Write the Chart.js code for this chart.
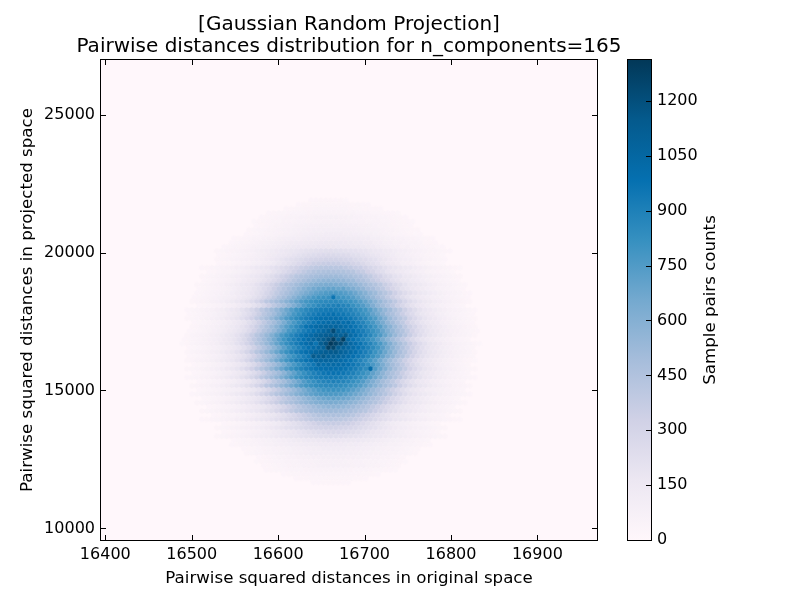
<!DOCTYPE html>
<html>
<head>
<meta charset="utf-8">
<style>
  body { margin: 0; background: #fff; }
  canvas { position: absolute; top: 0; }
  #hexChart { left: 0; }
  #barChart { left: 600px; }
</style>
<script src="https://cdn.jsdelivr.net/npm/chart.js@4/dist/chart.umd.js"></script>
</head>
<body>
<canvas id="hexChart" width="698" height="600"></canvas>
<canvas id="barChart" width="200" height="600"></canvas>
<script>
const xTicks = [16400, 16500, 16600, 16700, 16800, 16900];
const yTicks = [10000, 15000, 20000, 25000];
const barTicks = [0, 150, 300, 450, 600, 750, 900, 1050, 1200];
const xRange = [16395, 16969];
const yRange = [9583, 26975];
const barMax = 1312;

// hex bins: the middle of the blob, bin width in x, row height in y
const binXc = 16661;
const binDx = 5.74;
const binYc = 16700;
const binDy = 152.6;
// counts, row by row from top to bottom
const rowCounts = [
  [26,27,28,28,29,27,29,25],
  [26,28,30,31,32,33,33,34,33,34,32,30,31,27,26],
  [26,28,31,34,36,38,40,41,42,42,43,41,39,37,34,32,28,26,29,26],
  [26,29,32,35,38,41,43,45,47,48,48,50,51,50,50,49,47,48,44,41,39,35,33,29,26,27,25],
  [26,29,33,37,41,47,52,56,59,62,64,67,69,72,74,74,70,70,66,63,60,56,53,50,45,41,38,31,29,26],
  [25,28,31,37,41,45,49,52,56,58,61,64,66,68,69,70,70,68,68,65,63,60,57,55,52,49,44,41,36,31,28,26,24],
  [27,30,37,43,48,53,57,62,68,70,76,80,82,83,84,85,82,84,80,77,77,71,67,65,58,55,49,46,38,35,29,27],
  [28,33,39,45,50,55,60,65,69,74,81,85,89,92,94,95,96,97,95,94,91,90,86,82,75,70,66,59,56,51,46,38,34,28,29],
  [26,29,34,41,47,52,57,64,67,76,84,89,94,99,102,105,109,111,112,108,106,103,98,96,86,84,74,70,58,55,46,44,36,30,25,27],
  [26,30,37,43,49,55,60,67,73,83,89,96,100,105,112,118,123,127,130,132,133,131,129,127,124,119,110,108,96,92,85,75,72,61,60,50,47,39,34,29,26],
  [27,31,39,46,52,59,67,76,86,97,104,115,123,128,132,137,140,146,150,153,155,156,152,149,145,138,135,125,120,102,98,87,78,65,69,57,52,48,39,30,28,26],
  [27,31,39,46,52,59,67,76,87,97,104,115,126,137,147,152,158,163,166,168,170,171,172,167,166,165,156,155,145,137,130,116,105,96,86,79,64,69,53,50,45,37,33,25,26],
  [28,34,40,47,53,61,70,81,91,101,114,128,142,153,163,173,182,194,204,212,218,224,227,228,226,222,219,208,206,193,186,175,160,154,138,132,115,99,93,80,72,60,54,46,41,32,29,26],
  [26,30,37,45,53,61,69,82,94,104,120,137,152,166,177,196,210,226,241,249,258,266,268,272,264,259,254,233,226,210,195,180,168,151,137,118,107,93,81,68,62,52,46,36,31,25],
  [28,34,43,50,57,67,77,89,100,115,132,149,170,190,208,224,241,256,274,288,300,307,314,315,316,308,297,292,270,256,243,221,208,186,172,150,133,113,100,92,74,68,56,48,41,35,27],
  [26,29,35,44,52,61,70,84,97,110,128,147,175,196,218,242,266,293,318,342,352,360,365,362,358,345,338,313,296,270,240,220,198,175,150,140,122,95,90,80,58,52,46,34,31,25],
  [26,30,36,44,50,61,70,89,97,110,129,152,167,176,198,221,243,270,297,322,347,368,386,402,412,418,420,416,418,400,384,360,350,322,292,268,245,217,195,180,165,145,135,110,98,85,70,60,51,46,36,30,25],
  [26,30,39,48,56,66,76,90,103,121,142,160,175,201,227,258,293,330,360,390,422,442,455,462,470,466,460,455,440,428,390,372,325,300,250,232,195,178,158,140,118,106,88,78,64,55,47,38,31,25],
  [28,34,44,52,61,70,85,98,113,133,152,169,190,215,242,276,314,349,383,420,443,462,481,495,506,513,515,518,508,495,485,460,448,415,385,345,318,272,245,210,195,165,155,130,115,95,84,70,60,50,45,32,29],
  [27,33,42,50,60,70,85,98,118,139,158,175,200,228,260,300,342,383,425,456,485,513,535,553,566,572,575,565,555,530,520,480,458,420,380,345,300,265,225,202,172,160,135,118,100,87,68,62,50,40,35,26],
  [28,34,44,52,61,72,89,101,121,143,160,178,207,238,274,316,357,403,440,468,503,532,560,585,607,623,634,637,630,620,608,580,565,530,500,470,440,405,355,320,270,240,205,175,160,145,120,100,90,70,60,50,45,33,27],
  [27,33,42,50,60,70,87,100,120,143,163,185,215,250,293,342,390,435,472,512,552,590,625,660,680,692,700,705,685,695,655,630,590,555,505,480,430,395,340,295,255,212,185,160,140,122,100,88,72,58,50,42,34,26],
  [26,32,41,50,59,70,87,100,120,143,162,183,212,247,290,338,385,433,472,515,553,600,640,675,705,730,750,760,762,755,735,715,680,640,600,550,520,470,430,390,335,285,245,215,185,160,145,118,100,85,72,57,50,41,30,27],
  [27,34,43,53,62,75,87,93,107,130,155,173,205,242,287,338,388,445,490,536,588,643,695,733,770,795,805,812,960,810,790,770,735,690,640,590,540,490,445,385,340,285,240,205,175,155,130,110,95,85,74,62,52,42,35,26],
  [28,37,47,56,68,82,97,113,138,160,180,212,247,293,345,408,450,492,540,590,645,695,745,782,806,829,846,854,856,860,845,825,810,780,740,695,645,590,540,490,450,400,345,290,245,210,180,158,138,115,98,82,68,56,47,37,28],
  [26,32,42,52,62,74,90,105,130,152,172,203,242,287,342,402,452,500,558,620,680,745,795,825,860,880,893,902,910,885,870,820,790,745,690,620,550,500,450,400,340,285,240,200,170,150,128,105,88,74,62,52,42,32],
  [26,32,42,51,61,73,90,105,128,152,172,203,240,285,340,400,450,500,552,615,678,735,790,825,860,888,907,925,934,937,930,925,900,890,855,820,790,735,675,610,550,505,445,398,340,280,240,200,170,150,128,107,90,72,60,51,41,31,26],
  [26,32,42,52,62,75,92,105,130,155,175,210,245,293,352,415,462,510,575,650,710,775,820,862,900,926,953,967,972,995,960,950,925,890,865,815,775,700,650,570,505,465,410,350,290,250,205,175,155,130,105,95,75,62,52,42,32,26],
  [28,35,45,55,66,82,97,115,140,163,188,222,265,318,380,430,485,540,612,680,748,800,848,888,920,950,973,992,1000,1003,1008,990,970,955,915,885,850,790,750,680,615,535,480,430,385,315,265,220,188,162,140,115,98,80,66,55,44,35,28],
  [27,34,44,54,66,80,96,116,140,163,190,226,270,330,390,450,500,560,635,710,770,825,875,915,955,987,1008,1022,1032,1040,1000,1015,960,915,880,820,775,700,640,555,505,445,395,325,270,225,190,160,138,118,95,80,66,54,44,34,26],
  [29,38,48,57,70,85,101,123,148,170,200,237,288,345,405,462,520,585,660,730,790,845,900,970,998,1022,1043,1060,1065,1070,1045,1020,1000,965,930,890,840,790,730,655,590,520,465,400,340,290,235,200,172,145,125,100,85,70,57,47,38,30],
  [27,34,44,54,66,81,97,116,140,163,190,218,260,318,380,440,492,545,620,690,770,815,870,915,955,990,1022,1055,1098,1220,1084,1055,1025,990,950,915,865,815,765,690,615,550,490,445,380,318,260,220,190,162,140,115,98,80,67,54,44,34,27],
  [30,39,49,59,71,89,104,128,153,173,207,247,300,360,425,480,540,610,685,760,815,870,915,960,998,1028,1065,1095,1122,1140,1135,1095,1150,1030,1000,955,915,870,810,760,685,610,540,480,425,360,300,245,207,173,153,128,104,88,71,59,49,39,30],
  [27,34,44,54,65,80,96,115,140,162,190,225,270,330,390,450,510,575,650,725,795,850,900,945,985,1020,1055,1095,1135,1180,1270,1125,1280,1045,985,945,900,850,795,725,650,575,510,450,390,330,270,225,190,162,140,115,96,80,65,54,44,34],
  [25,30,40,50,60,72,90,105,130,155,175,210,250,305,365,430,485,545,620,695,770,825,880,925,970,1005,1040,960,1120,1180,1300,1250,1220,1130,1040,1005,970,925,880,825,770,695,620,545,485,430,365,305,250,210,175,155,130,105,90,72,60,50,40,30,25],
  [27,34,44,54,65,80,96,115,140,162,190,225,270,330,390,450,510,575,650,725,795,850,900,945,985,1020,1055,1095,1260,1240,1135,1095,1055,1020,985,945,900,850,795,725,650,575,510,450,390,330,270,225,190,162,140,115,96,80,65,54,44,34],
  [30,39,49,59,71,89,104,128,153,173,207,247,300,360,425,480,540,610,685,760,815,870,915,960,998,1028,1065,1095,1122,1140,1150,1095,1065,1030,1000,955,915,870,810,760,685,610,540,480,425,360,300,245,207,173,153,128,104,88,71,59,49,39,30],
  [27,34,44,54,66,81,97,116,140,163,190,218,260,318,380,440,492,545,620,690,770,815,870,915,955,1150,1100,1150,1098,1100,1084,1055,1022,990,955,915,870,815,762,690,620,560,490,445,380,318,260,218,190,163,140,116,97,81,66,54,44,34],
  [29,38,48,57,70,85,101,123,148,170,200,237,288,345,405,462,520,585,660,730,790,845,900,930,970,998,1040,1060,1065,1060,1043,1022,998,970,930,891,845,790,730,660,585,520,462,405,345,288,237,200,170,148,123,101,85,70,57,48,38,29,25],
  [27,34,44,54,66,80,96,116,140,163,190,226,270,330,390,450,500,560,635,710,770,825,875,915,955,1040,1008,1022,1032,1020,1012,990,955,925,875,825,770,710,635,560,500,450,390,330,270,226,190,163,140,116,96,80,66,54,44,34],
  [28,35,45,55,66,82,97,115,140,163,188,222,265,318,380,430,485,540,612,680,748,800,848,888,920,950,973,992,1000,1003,1000,992,973,950,920,888,848,1010,748,680,612,540,485,430,380,318,265,222,188,163,140,115,97,82,66,55,45,35,28],
  [26,32,42,52,62,75,92,105,130,155,175,210,245,293,352,415,462,510,575,650,710,775,820,862,900,926,953,967,972,967,953,926,900,862,820,775,710,650,575,510,462,415,352,293,245,210,175,155,130,105,92,75,62,52,42,32],
  [26,32,42,51,61,73,90,105,128,152,172,203,240,285,340,400,450,500,552,615,678,735,790,825,860,888,907,925,934,937,934,925,907,888,860,825,790,735,678,615,552,500,450,400,340,285,240,203,172,152,128,105,90,73,61,51,42,32,26],
  [26,32,42,52,62,74,90,105,130,152,172,203,242,287,342,402,452,500,558,620,680,745,795,825,860,880,893,902,893,880,860,825,795,745,680,620,558,500,452,402,342,287,242,203,172,152,130,105,90,74,62,52,42,32],
  [28,37,47,56,68,82,97,113,138,160,180,212,247,293,345,408,450,492,540,590,645,695,745,782,806,829,846,854,856,854,846,829,806,782,745,695,645,590,540,492,450,408,345,293,247,212,180,160,138,113,97,82,68,56,47,37,28],
  [27,34,43,53,62,75,87,93,107,130,155,173,205,242,287,338,388,445,490,536,588,643,695,733,770,795,805,812,805,795,770,733,695,643,588,536,490,445,388,338,287,242,205,173,155,130,107,93,87,75,62,53,43,34],
  [26,32,41,50,59,70,87,100,120,143,162,183,212,247,290,338,385,433,472,515,553,600,640,675,705,730,750,760,762,760,750,730,705,675,640,600,553,515,472,433,385,338,290,247,212,183,162,143,120,100,87,70,59,50,41,32,26],
  [27,33,42,50,60,70,87,100,120,143,163,185,215,250,293,342,390,435,472,512,552,590,625,660,680,692,700,692,680,660,625,590,552,512,472,435,390,342,293,250,215,185,163,143,120,100,87,70,60,50,42,33],
  [28,34,44,52,61,72,89,101,121,143,160,178,207,238,274,316,357,403,440,468,503,532,560,585,607,623,634,637,634,623,607,585,560,532,503,468,440,403,357,316,274,238,207,178,160,143,121,101,89,72,61,52,44,34,28],
  [27,33,42,50,60,70,85,98,118,139,158,175,200,228,260,300,342,383,425,456,485,513,535,553,566,572,566,553,535,513,485,456,425,383,342,300,260,228,200,175,158,139,118,98,85,70,60,50,42,33],
  [28,34,44,52,61,70,85,98,113,133,152,169,190,215,242,276,314,349,383,420,443,462,481,495,506,513,515,513,506,495,481,462,443,420,383,349,314,276,242,215,190,169,152,133,113,98,85,70,61,52,44,34,28],
  [26,30,39,48,56,66,76,90,103,121,142,160,175,201,227,258,293,330,360,390,422,442,455,462,466,462,455,442,422,390,360,330,293,258,227,201,175,160,142,121,103,90,76,66,56,48,39,30],
  [26,30,36,44,50,61,70,89,97,110,129,152,167,176,198,221,243,270,297,322,347,368,386,402,412,418,420,418,412,402,386,368,347,322,297,270,243,221,198,176,167,152,129,110,97,89,70,61,50,44,36,30,26],
  [26,29,35,44,52,61,70,84,97,110,128,147,175,196,218,242,266,293,318,342,352,360,365,360,352,342,318,293,266,242,218,196,175,147,128,110,97,84,70,61,52,44,35,29],
  [28,34,43,50,57,67,77,89,100,115,132,149,170,190,208,224,241,256,274,288,300,307,314,315,314,307,300,288,274,256,241,224,208,190,170,149,132,115,100,89,77,67,57,50,43,34,28],
  [26,30,37,45,53,61,69,82,94,104,120,137,152,166,177,196,210,226,241,249,258,266,268,266,258,249,241,226,210,196,177,166,152,137,120,104,94,82,69,61,53,45,37,30],
  [28,34,40,47,53,61,70,81,91,101,114,128,142,153,163,173,182,194,204,212,218,224,227,228,227,224,218,212,204,194,182,173,163,153,142,128,114,101,91,81,70,61,53,47,40,34,28],
  [27,31,39,46,52,59,67,76,87,97,104,115,126,137,147,152,158,163,166,168,170,168,166,163,158,152,147,137,126,115,104,97,87,76,67,59,52,46,39,31],
  [26,30,37,43,49,55,60,67,73,83,89,96,100,105,112,118,123,127,130,132,133,132,130,127,123,118,112,105,100,96,89,83,73,67,60,55,49,43,37,30,26],
  [26,29,34,41,47,52,57,64,67,76,84,89,94,99,102,105,109,111,112,111,109,105,102,99,94,89,84,76,67,64,57,52,47,41,34,29],
  [28,33,39,45,50,55,60,65,69,74,81,85,89,92,94,95,96,97,96,95,94,92,89,85,81,74,69,65,60,55,50,45,39,33,28],
  [27,30,37,43,48,53,57,62,68,70,76,80,82,83,84,85,84,83,82,80,76,70,68,62,57,53,48,43,37,30],
  [25,28,31,37,41,45,49,52,56,58,61,64,66,68,69,70,69,68,66,64,61,58,56,52,49,45,41,37,31,28,25],
  [26,29,33,37,41,47,52,56,59,62,64,67,69,72,74,72,69,67,64,62,59,56,52,47,41,37,33,29],
  [26,29,32,35,38,41,43,45,47,48,48,50,51,50,50,48,48,47,45,43,41,38,35,32,29,26,25],
  [26,28,31,34,36,38,40,41,42,42,43,42,41,40,38,36,34,31,28,26],
  [26,28,30,31,32,33,33,34,33,33,32,31,30,28,26],
  [26,27,28,28,28,28,27,26],
];

// PuBu
const cmap = ['#fff7fb', '#ece7f2', '#d0d1e6', '#a6bddb', '#74a9cf', '#3690c0', '#0570b0', '#045a8d', '#023858'];
const FONT = 'DejaVu Sans';
Chart.defaults.font.family = FONT;
Chart.defaults.color = '#000';

function rgb(hex) {
  return [1, 3, 5].map((i) => parseInt(hex.slice(i, i + 2), 16));
}
function countColor(v) {
  const t = Math.min(v / barMax, 1) * (cmap.length - 1);
  const i = Math.min(Math.floor(t), cmap.length - 2);
  const a = rgb(cmap[i]), b = rgb(cmap[i + 1]);
  const c = a.map((p, k) => Math.round(p + (b[k] - p) * (t - i)));
  return `rgb(${c[0]},${c[1]},${c[2]})`;
}

const hexCache = {};
function hexStyle(color) {
  if (hexCache[color]) return hexCache[color];
  const cv = document.createElement('canvas');
  cv.width = 8; cv.height = 8;
  const c = cv.getContext('2d');
  const R = 3.1;
  c.fillStyle = color;
  c.beginPath();
  for (let k = 0; k < 6; k++) {
    const a = Math.PI / 6 + k * Math.PI / 3;
    c.lineTo(4 + R * Math.cos(a), 4 + R * Math.sin(a));
  }
  c.closePath();
  c.fill();
  hexCache[color] = cv;
  return cv;
}

// rows sit on a staggered grid around the middle row; each row is lined up on the
// bin nearest its own centre of mass, since the rows were read with uneven tails
const midRow = Math.floor(rowCounts.length / 2);
const points = [];
rowCounts.forEach((row, i) => {
  let sum = 0, moment = 0;
  row.forEach((v, j) => { sum += v; moment += v * j; });
  const centre = moment / sum;
  const offset = (i - midRow) % 2 ? Math.round(centre - 0.5) + 0.5 : Math.round(centre);
  row.forEach((v, j) => {
    points.push({ x: binXc + (j - offset) * binDx, y: binYc + (midRow - i) * binDy, v });
  });
});

function fixedTicks(list) {
  return (scale) => { scale.ticks = list.map((value) => ({ value })); };
}

function drawFrame(ctx, a) {
  ctx.strokeStyle = '#000';
  ctx.lineWidth = 1;
  ctx.strokeRect(a.left - 0.5, a.top - 0.5, a.right - a.left + 1, a.bottom - a.top + 1);
}
function vTick(ctx, px, y0, y1) {
  const x = Math.round(px) + 0.5;
  ctx.beginPath(); ctx.moveTo(x, y0); ctx.lineTo(x, y1); ctx.stroke();
}
function hTick(ctx, py, x0, x1) {
  const y = Math.round(py) + 0.5;
  ctx.beginPath(); ctx.moveTo(x0, y); ctx.lineTo(x1, y); ctx.stroke();
}

const hexFrame = {
  id: 'hexFrame',
  beforeDatasetsDraw(chart) {
    const a = chart.chartArea, ctx = chart.ctx;
    ctx.fillStyle = cmap[0];
    ctx.fillRect(a.left, a.top, a.right - a.left, a.bottom - a.top);
  },
  afterDatasetsDraw(chart) {
    const a = chart.chartArea, ctx = chart.ctx;
    drawFrame(ctx, a);
    xTicks.forEach((v) => {
      const p = chart.scales.x.getPixelForValue(v);
      vTick(ctx, p, a.bottom, a.bottom - 5);
      vTick(ctx, p, a.top, a.top + 5);
    });
    yTicks.forEach((v) => {
      const p = chart.scales.y.getPixelForValue(v);
      hTick(ctx, p, a.left, a.left + 5);
      hTick(ctx, p, a.right, a.right - 5);
    });
  },
};

new Chart(document.getElementById('hexChart'), {
  type: 'scatter',
  plugins: [hexFrame],
  data: {
    datasets: [{
      data: points,
      pointStyle: points.map((p) => hexStyle(countColor(p.v))),
      pointRadius: 3,
      pointBorderWidth: 0,
    }],
  },
  options: {
    responsive: false,
    devicePixelRatio: 1,
    animation: false,
    events: [],
    plugins: {
      legend: { display: false },
      tooltip: { enabled: false },
      title: {
        display: true,
        text: ['[Gaussian Random Projection]', 'Pairwise distances distribution for n_components=165'],
        color: '#000',
        font: { size: 20, weight: 'normal', lineHeight: 1.1 },
        padding: { top: 14, bottom: 2 },
      },
    },
    scales: {
      x: {
        type: 'linear',
        min: xRange[0],
        max: xRange[1],
        afterBuildTicks: fixedTicks(xTicks),
        afterFit: (s) => { s.height = 60; },
        grid: { display: false, drawTicks: false },
        border: { display: false },
        ticks: { autoSkip: false, maxRotation: 0, padding: 5, font: { size: 16 }, callback: (v) => String(v) },
        title: {
          display: true,
          text: 'Pairwise squared distances in original space',
          font: { size: 16.67 },
          padding: { top: 0, bottom: 11 },
        },
      },
      y: {
        type: 'linear',
        min: yRange[0],
        max: yRange[1],
        afterBuildTicks: fixedTicks(yTicks),
        afterFit: (s) => { s.width = 101; },
        grid: { display: false, drawTicks: false },
        border: { display: false },
        ticks: { autoSkip: false, padding: 6, font: { size: 16 }, callback: (v) => String(v) },
        title: {
          display: true,
          text: 'Pairwise squared distances in projected space',
          font: { size: 16.67 },
          padding: { top: 18, bottom: 0 },
        },
      },
      // keeps the plot area left of the colour bar while the title stays centred on it
      rightGap: {
        type: 'linear',
        position: 'right',
        afterFit: (s) => { s.width = 101; },
        grid: { display: false, drawTicks: false },
        border: { display: false },
        ticks: { display: false },
      },
    },
  },
});

const barFrame = {
  id: 'barFrame',
  afterDatasetsDraw(chart) {
    const a = chart.chartArea, ctx = chart.ctx;
    drawFrame(ctx, a);
    barTicks.forEach((v) => {
      hTick(ctx, chart.scales.y.getPixelForValue(v), a.right, a.right - 5);
    });
    ctx.save();
    ctx.translate(111, 300);
    ctx.rotate(-Math.PI / 2);
    ctx.fillStyle = '#000';
    ctx.font = `16.67px "${FONT}"`;
    ctx.textAlign = 'center';
    ctx.textBaseline = 'middle';
    ctx.fillText('Sample pairs counts', 0, 0);
    ctx.restore();
  },
};

new Chart(document.getElementById('barChart'), {
  type: 'bar',
  plugins: [barFrame],
  data: {
    labels: ['counts'],
    datasets: [{
      data: [[0, barMax]],
      barPercentage: 1,
      categoryPercentage: 1,
      backgroundColor: (c) => {
        const a = c.chart.chartArea;
        if (!a) return cmap[0];
        const g = c.chart.ctx.createLinearGradient(0, a.bottom, 0, a.top);
        cmap.forEach((col, i) => g.addColorStop(i / (cmap.length - 1), col));
        return g;
      },
    }],
  },
  options: {
    responsive: false,
    devicePixelRatio: 1,
    animation: false,
    events: [],
    layout: { padding: { left: 28, right: 0, top: 60, bottom: 60 } },
    plugins: { legend: { display: false }, tooltip: { enabled: false } },
    scales: {
      x: { display: false },
      y: {
        position: 'right',
        min: 0,
        max: barMax,
        afterBuildTicks: fixedTicks(barTicks),
        afterFit: (s) => { s.width = 149; },
        grid: { display: false, drawTicks: false },
        border: { display: false },
        ticks: { autoSkip: false, padding: 6, font: { size: 16 }, callback: (v) => String(v) },
      },
    },
  },
});
</script>
</body>
</html>
